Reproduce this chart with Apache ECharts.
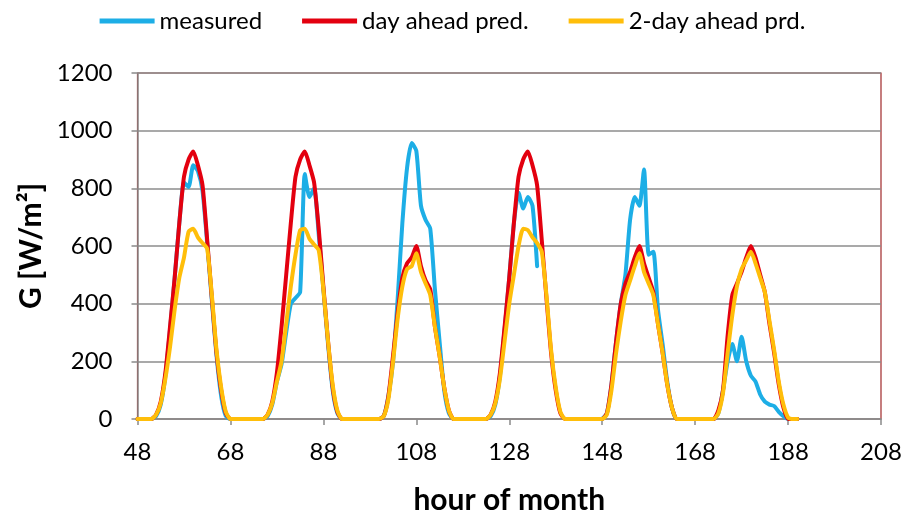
<!DOCTYPE html>
<html>
<head>
<meta charset="utf-8">
<script src="https://cdn.jsdelivr.net/npm/echarts@6/dist/echarts.min.js"></script>
<style>
  html, body { margin: 0; padding: 0; background: #ffffff; }
  #chart { width: 905px; height: 520px; }
</style>
</head>
<body>
<div id="chart"></div>
<script>
// Hourly global irradiance, hours 48..190 of the month (one value per hour)
const firstHour = 48;

const measured = [
  0, 0, 0, 0, 10, 50, 150, 310, 490, 680, 820, 805, 880, 860, 790, 610, 410, 220, 80, 10,
  0, 0, 0, 0, 0, 0, 0, 0,
  10, 50, 130, 190, 300, 400, 420, 440, 850, 770, 800, 640, 450, 260, 100, 20,
  0, 0, 0, 0, 0, 0, 0, 0,
  0, 10, 80, 200, 420, 680, 870, 957, 930, 740, 690, 660, 450, 270, 100, 20,
  0, 0, 0, 0, 0, 0, 0, 0,
  10, 50, 150, 310, 490, 680, 785, 730, 770, 740, 530,
  null, null, null, null, null, null, null, null, null, null, null, null, null,
  0, 20, 120, 270, 400, 500, 690, 770, 740, 865, 570, 580, 380, 260, 130, 40,
  0, 0, 0, 0, 0, 0, 0, 0,
  0, 20, 100, 200, 260, 200, 285, 200, 150, 130, 85, 60, 50, 45, 25, 10, 0, 0, 0
];

const dayAhead = [
  0, 0, 0, 0, 15, 60, 160, 320, 490, 680, 840, 900, 928, 880, 810, 620, 420, 230, 100, 20,
  0, 0, 0, 0, 0, 0, 0, 0,
  15, 60, 160, 320, 500, 680, 840, 900, 928, 880, 820, 660, 460, 270, 110, 25,
  0, 0, 0, 0, 0, 0, 0, 0,
  0, 10, 80, 220, 370, 490, 540, 560, 600, 530, 480, 450, 320, 220, 110, 30,
  0, 0, 0, 0, 0, 0, 0, 0,
  15, 60, 160, 320, 490, 680, 840, 900, 928, 880, 810, 620, 420, 230, 100, 20,
  0, 0, 0, 0, 0, 0, 0, 0,
  0, 20, 120, 270, 400, 470, 510, 560, 600, 540, 490, 440, 330, 230, 120, 40,
  0, 0, 0, 0, 0, 0, 0, 0,
  0, 30, 100, 290, 430, 470, 510, 560, 600, 560, 500, 440, 330, 230, 120, 40, 0, 0, 0
];

const twoDayAhead = [
  0, 0, 0, 0, 15, 55, 140, 250, 380, 490, 560, 650, 660, 630, 610, 590, 430, 240, 110, 25,
  0, 0, 0, 0, 0, 0, 0, 0,
  15, 55, 130, 200, 330, 460, 570, 655, 660, 625, 605, 585, 450, 270, 120, 30,
  0, 0, 0, 0, 0, 0, 0, 0,
  0, 10, 70, 200, 350, 460, 520, 530, 575, 510, 470, 430, 320, 220, 110, 30,
  0, 0, 0, 0, 0, 0, 0, 0,
  15, 55, 140, 270, 400, 500, 600, 660, 655, 630, 610, 580, 430, 240, 110, 25,
  0, 0, 0, 0, 0, 0, 0, 0,
  0, 15, 100, 230, 340, 430, 480, 530, 575, 510, 470, 430, 330, 230, 120, 40,
  0, 0, 0, 0, 0, 0, 0, 0,
  0, 20, 90, 230, 360, 460, 520, 550, 580, 540, 490, 440, 340, 240, 130, 50, 5, 0, 0
];

const seriesNames = ['measured', 'day ahead pred.', '2-day ahead prd.'];
const seriesColors = ['#1DAEE6', '#E3000F', '#FFBE0A'];

const xTicks = { min: 48, max: 208, step: 20 };
const yTicks = { min: 0, max: 1200, step: 200 };

const toPoints = (values) => values.map((v, i) => [firstHour + i, v]);

const font = 'Lato, "Liberation Sans", Arial, sans-serif';

const chart = echarts.init(document.getElementById('chart'), null, { renderer: 'canvas' });

chart.setOption({
  backgroundColor: '#ffffff',
  animation: false,
  textStyle: { fontFamily: font },
  legend: {
    top: 4,
    left: 'center',
    icon: 'rect',
    itemWidth: 55,
    itemHeight: 5,
    itemGap: 40,
    textStyle: { fontFamily: font, fontSize: 24, color: '#000' },
    data: seriesNames
  },
  grid: {
    left: 137.5,
    right: 24,
    top: 73,
    bottom: 100,
    show: true,
    borderColor: '#A0282A',
    borderWidth: 1.2
  },
  xAxis: {
    type: 'value',
    min: xTicks.min,
    max: xTicks.max,
    interval: xTicks.step,
    name: 'hour of month',
    nameLocation: 'middle',
    nameGap: 66,
    nameTextStyle: { fontFamily: font, fontSize: 30, fontWeight: 'bold', color: '#000' },
    axisLine: { show: true, onZero: false, lineStyle: { color: '#8A8A8A', width: 1.5 } },
    axisTick: { show: true, inside: false, length: 6, lineStyle: { color: '#8A8A8A', width: 1.5 } },
    axisLabel: { margin: 21, fontSize: 24, color: '#000', fontFamily: font,
                 formatter: (v) => String(v) },
    splitLine: { show: false }
  },
  yAxis: {
    type: 'value',
    min: yTicks.min,
    max: yTicks.max,
    interval: yTicks.step,
    name: 'G [W/m²]',
    nameLocation: 'middle',
    nameGap: 91,
    nameTextStyle: { fontFamily: font, fontSize: 30, fontWeight: 'bold', color: '#000' },
    axisLine: { show: true, lineStyle: { color: '#8A8A8A', width: 1.5 } },
    axisTick: { show: true, inside: false, length: 6, lineStyle: { color: '#8A8A8A', width: 1.5 } },
    axisLabel: { margin: 25, fontSize: 24, color: '#000', fontFamily: font,
                 formatter: (v) => String(v) },
    splitLine: { show: true, lineStyle: { color: '#8C8C8C', width: 1.5 } }
  },
  series: [measured, dayAhead, twoDayAhead].map((vals, k) => ({
    name: seriesNames[k],
    type: 'line',
    data: toPoints(vals),
    showSymbol: false,
    symbol: 'none',
    smooth: 0.2,
    connectNulls: false,
    color: seriesColors[k],
    lineStyle: { color: seriesColors[k], width: 4, join: 'round', cap: 'round' },
    z: 2 + k
  }))
});
</script>
</body>
</html>
